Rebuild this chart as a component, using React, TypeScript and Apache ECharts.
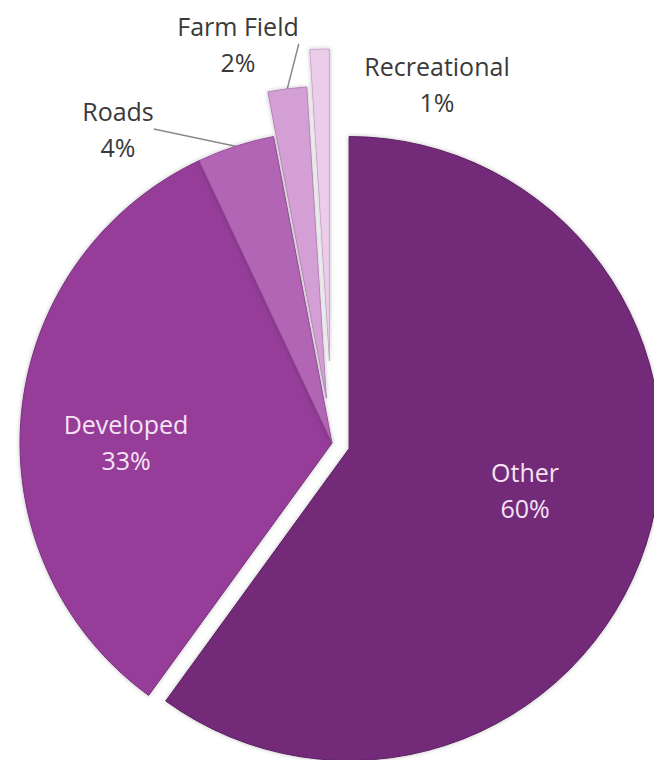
import React, { useEffect, useRef } from "react";
import * as echarts from "echarts";

const categories = ["Other", "Developed", "Roads", "Farm Field", "Recreational"];
const values = [60, 33, 4, 2, 1];
const sliceColors = ["#722B79", "#953E99", "#B265B4", "#D49FD4", "#EBCDEB"];
const borderColors = ["#5A1F60", "#7A2F7E", "#94509A", "#B584B6", "#C8A8C8"];
// drawing group of each slice; each group is exploded along the mid-angle of its lead slice
const explodeGroup = [0, 1, 1, 2, 3];
const groupOffsets = [18, 0, 45, 82];
const groupLead = ["Other", "Developed", "Farm Field", "Recreational"];
const insideLabels = ["Other", "Developed"];
const leaderLabels = ["Roads", "Farm Field"];

const labelPos: Record<string, [number, number]> = {
  Other: [525, 490],
  Developed: [126, 442],
  Roads: [118, 129],
  "Farm Field": [238, 44],
  Recreational: [437, 84],
};

const CENTER: [number, number] = [332, 443];
const RADIUS = 312;

function groupCenter(g: number): [number, number] {
  const total = values.reduce((a, b) => a + b, 0);
  const idx = categories.indexOf(groupLead[g]);
  const before = values.slice(0, idx).reduce((a, b) => a + b, 0);
  const mid = ((before + values[idx] / 2) / total) * Math.PI * 2;
  const off = groupOffsets[g];
  return [CENTER[0] + off * Math.sin(mid), CENTER[1] - off * Math.cos(mid)];
}

export default function App() {
  const ref = useRef<HTMLDivElement>(null);
  useEffect(() => {
    if (!ref.current) return;
    const chart = echarts.init(ref.current, undefined, { renderer: "svg" });
    const series = groupOffsets.map((_off, g) => ({
      type: "pie",
      center: groupCenter(g),
      radius: [0, RADIUS],
      startAngle: 90,
      clockwise: true,
      avoidLabelOverlap: false,
      percentPrecision: 0,
      silent: true,
      emphasis: { disabled: true },
      labelLayout: (params: any) => {
        const name = categories[params.dataIndex];
        const p = labelPos[name];
        if (!p) return {};
        return { x: p[0], y: p[1], align: "center", verticalAlign: "middle" };
      },
      data: categories.map((name, i) => {
        const visible = explodeGroup[i] === g;
        const inside = insideLabels.includes(name);
        return {
          name,
          value: values[i],
          itemStyle: visible
            ? {
                color: sliceColors[i],
                borderColor: borderColors[i],
                borderWidth: 1,
                shadowBlur: 4,
                shadowColor: "rgba(0,0,0,0.25)",
              }
            : { color: "transparent", borderWidth: 0 },
          label: {
            show: visible,
            position: inside ? "inside" : "outside",
            formatter: "{b}\n{d}%",
            color: inside ? "#F5E3F5" : "#3A3A3A",
            fontFamily: "Open Sans",
            fontSize: 25,
            lineHeight: 36,
            align: "center",
          },
          labelLine: {
            show: visible && leaderLabels.includes(name),
            length: 10,
            length2: 0,
            lineStyle: { color: "#8A8A8A", width: 1.5 },
          },
        };
      }),
    }));
    chart.setOption({
      animation: false,
      backgroundColor: "#ffffff",
      series,
    } as any);
    return () => chart.dispose();
  }, []);
  return <div ref={ref} style={{ width: 654, height: 760, position: "absolute", left: 0, top: 0 }} />;
}
